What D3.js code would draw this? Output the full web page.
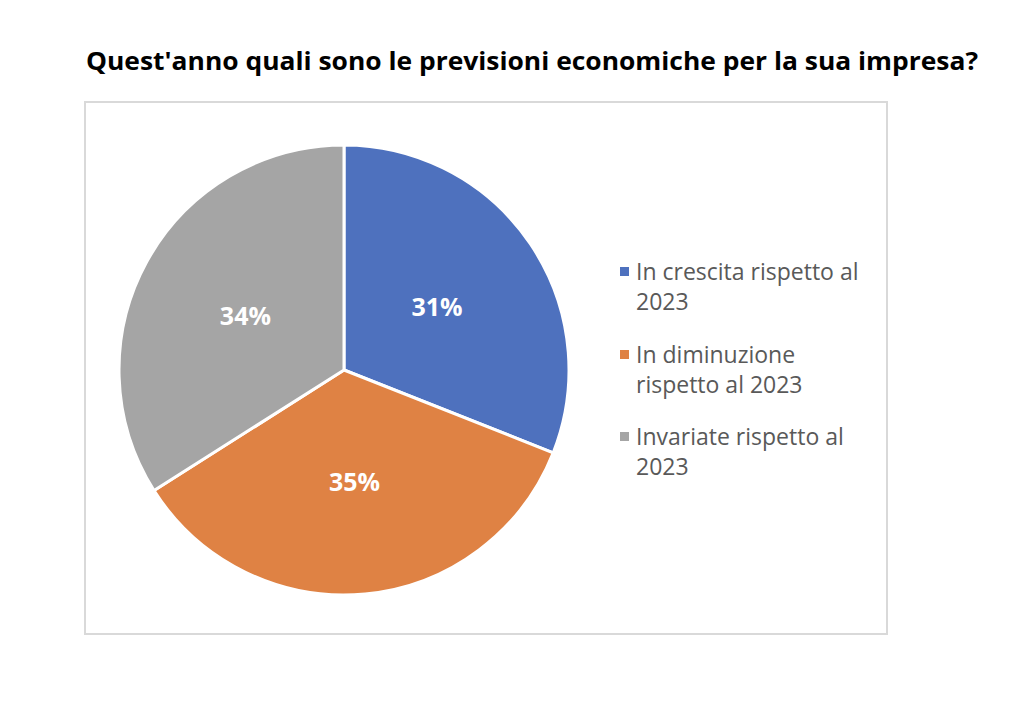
<!DOCTYPE html>
<html><head><meta charset="utf-8">
<script src="https://cdn.jsdelivr.net/npm/d3@7"></script>
<style>body{margin:0;background:#fff;}svg{display:block;}</style>
</head><body>
<svg id="chart" width="1024" height="705"></svg>
<script>
const title = "Quest'anno quali sono le previsioni economiche per la sua impresa?";
const categories = ["In crescita rispetto al 2023", "In diminuzione rispetto al 2023", "Invariate rispetto al 2023"];
const legendLines = [["In crescita rispetto al", "2023"], ["In diminuzione", "rispetto al 2023"], ["Invariate rispetto al", "2023"]];
const values = [31, 35, 34];
const colors = ["#4E71BE", "#DF8244", "#A5A5A5"];

const svg = d3.select("#chart");
const font = "'Open Sans', 'Liberation Sans', Arial, sans-serif";

// title
svg.append("text").attr("x", 532).attr("y", 70).attr("text-anchor", "middle")
  .attr("font-family", font).attr("font-weight", "bold").attr("font-size", 25)
  .attr("textLength", 892).attr("lengthAdjust", "spacingAndGlyphs")
  .attr("fill", "#000").text(title);

// plot frame
svg.append("rect").attr("x", 85).attr("y", 102).attr("width", 802).attr("height", 532)
  .attr("fill", "none").attr("stroke", "#d9d9d9").attr("stroke-width", 2);

const cx = 344, cy = 370, R = 225;
const pie = d3.pie().sort(null).value(d => d)(values);
const arc = d3.arc().innerRadius(0).outerRadius(R);
const g = svg.append("g").attr("transform", `translate(${cx},${cy})`);
g.selectAll("path").data(pie).join("path")
  .attr("d", arc).attr("fill", (d, i) => colors[i])
  .attr("stroke", "#fff").attr("stroke-width", 3).attr("stroke-linejoin", "round");

const labelArc = d3.arc().innerRadius(0).outerRadius(R);
g.selectAll("text.lbl").data(pie).join("text").attr("class", "lbl")
  .attr("transform", d => `translate(${labelArc.centroid(d)})`)
  .attr("text-anchor", "middle").attr("dy", "0.36em")
  .attr("font-family", font).attr("font-weight", "bold").attr("font-size", 25)
  .attr("fill", "#fff").text(d => d3.format(".0f")(d.data) + "%");

// legend
const lg = svg.append("g");
const legendY = [272, 355, 437];
categories.forEach((c, i) => {
  lg.append("rect").attr("x", 620).attr("y", legendY[i] - 5).attr("width", 9).attr("height", 9).attr("fill", colors[i]);
  const t = lg.append("text").attr("font-family", font).attr("font-size", 23).attr("fill", "#595959");
  legendLines[i].forEach((ln, j) => {
    t.append("tspan").attr("x", 636).attr("y", legendY[i] + 8 + j * 30).text(ln);
  });
});
</script>
</body></html>
